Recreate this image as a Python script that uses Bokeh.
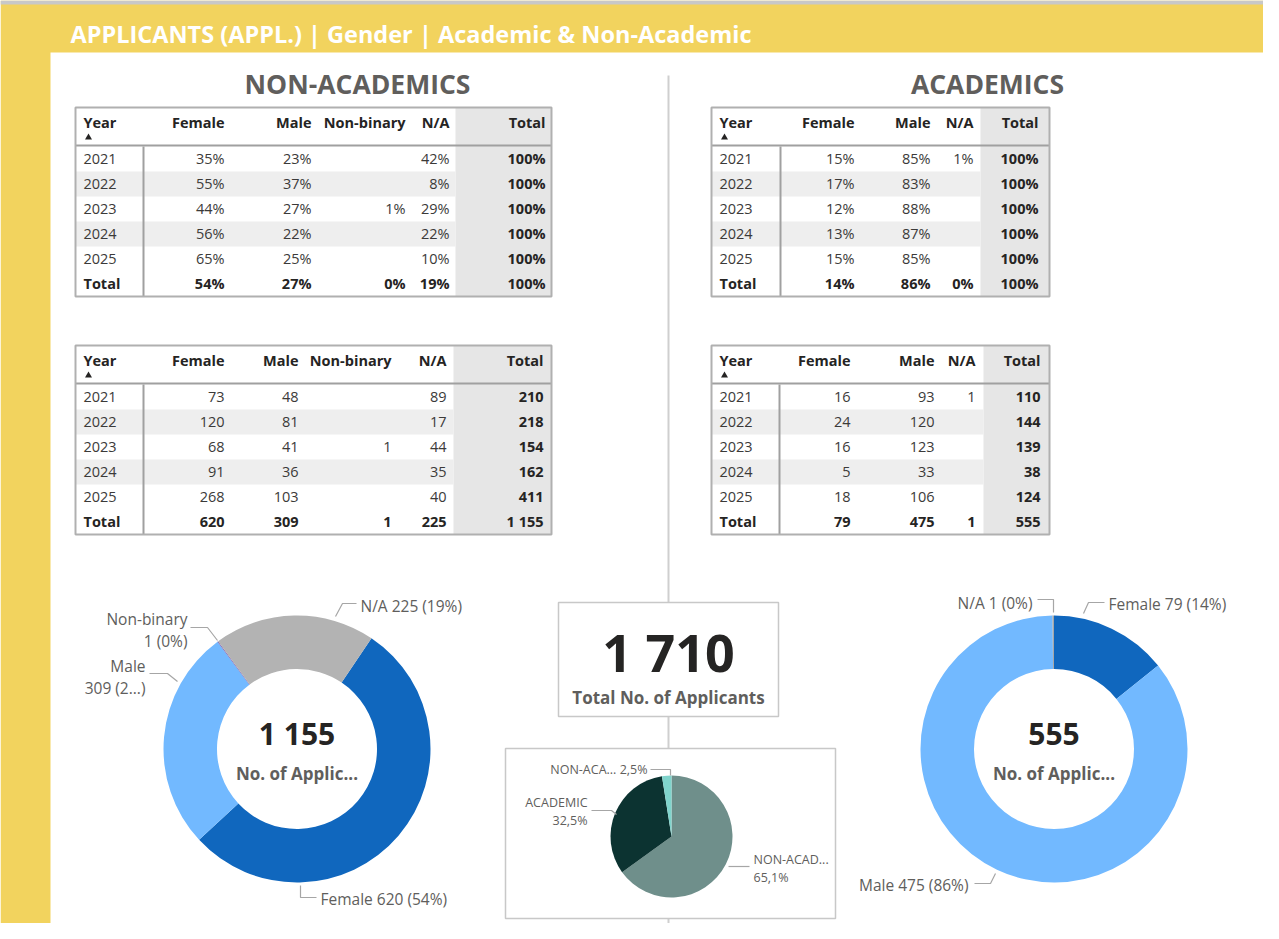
import math
from bokeh.plotting import figure
from bokeh.models import Range1d
from bokeh.core.properties import value
from bokeh.embed import file_html
from bokeh.resources import INLINE

# ---------------- data ----------------
years = ["2021", "2022", "2023", "2024", "2025"]

# Non-academics, share of applicants per year (%)
na_pct_female = [35, 55, 44, 56, 65]
na_pct_male = [23, 37, 27, 22, 25]
na_pct_nonbinary = [None, None, 1, None, None]
na_pct_na = [42, 8, 29, 22, 10]
na_pct_total = [100, 100, 100, 100, 100]
na_pct_totalrow = [54, 27, 0, 19, 100]

# Non-academics, counts
na_cnt_female = [73, 120, 68, 91, 268]
na_cnt_male = [48, 81, 41, 36, 103]
na_cnt_nonbinary = [None, None, 1, None, None]
na_cnt_na = [89, 17, 44, 35, 40]
na_cnt_total = [210, 218, 154, 162, 411]
na_cnt_totalrow = [620, 309, 1, 225, 1155]

# Academics, share (%)
ac_pct_female = [15, 17, 12, 13, 15]
ac_pct_male = [85, 83, 88, 87, 85]
ac_pct_na = [1, None, None, None, None]
ac_pct_total = [100, 100, 100, 100, 100]
ac_pct_totalrow = [14, 86, 0, 100]

# Academics, counts
ac_cnt_female = [16, 24, 16, 5, 18]
ac_cnt_male = [93, 120, 123, 33, 106]
ac_cnt_na = [1, None, None, None, None]
ac_cnt_total = [110, 144, 139, 38, 124]
ac_cnt_totalrow = [79, 475, 1, 555]

# Donuts
na_donut_cats = ["Female", "Male", "Non-binary", "N/A"]
na_donut_vals = [620, 309, 1, 225]
ac_donut_cats = ["Female", "Male", "N/A"]
ac_donut_vals = [79, 475, 1]

# Pie: share of all applicants
pie_cats = ["NON-ACAD...", "ACADEMIC", "NON-ACA..."]
pie_vals = [65.1, 32.5, 2.5]

total_applicants = 1710

# ---------------- figure ----------------
W, H = 1263, 923
p = figure(width=W, height=H, x_range=Range1d(0, W), y_range=Range1d(939 - H, 939),
           output_backend="svg", toolbar_location=None, min_border=0)
p.axis.visible = False
p.grid.visible = False
p.outline_line_color = None
p.background_fill_color = "white"
p.border_fill_color = "white"


def Y(y):
    return 939 - y


FONT = "Open Sans"
DARK = "#252423"
BODY = "#3b3a39"
GREY = "#605e5c"
LINE = "#a6a6a6"


def txt(x, y, s, size=13, color=DARK, bold=False, align="left", font=FONT):
    p.text(x=[x], y=[Y(y)], text=[s], text_font=value(font),
           text_font_size=value(f"{size}px"),
           text_font_style="bold" if bold else "normal",
           text_color=color, text_align=align, text_baseline="middle")


def box(x0, x1, y0, y1, fill=None, line=None, lw=1.0):
    p.quad(left=[x0], right=[x1], top=[Y(y0)], bottom=[Y(y1)],
           fill_color=fill if fill else None, fill_alpha=1.0 if fill else 0.0,
           line_color=line, line_width=lw)


def seg(xs, ys, color=LINE, lw=1.2):
    p.line(x=xs, y=[Y(v) for v in ys], line_color=color, line_width=lw)


def dec(v):
    return f"{v:.1f}%".replace(".", ",")


# background: grey strip, yellow frame + white canvas
box(0, W, 0, 939, fill="#f2d35e")
box(0, W, 0, 4, fill="#c8c8c8")
box(50, W, 52, 939, fill="#ffffff")
txt(70, 33, "APPLICANTS (APPL.) | Gender | Academic & Non-Academic", size=23.5,
    color="#ffffff", bold=True)

# section titles
txt(357, 83, "NON-ACADEMICS", size=26.5, color=GREY, bold=True, align="center")
txt(987, 83, "ACADEMICS", size=26.5, color=GREY, bold=True, align="center")

# vertical divider
seg([668, 668], [75, 939], color="#cfcfcf", lw=2)


# ---------------- tables ----------------
def fmt_pct(v):
    return "" if v is None else f"{v}%"


def fmt_cnt(v):
    return "" if v is None else f"{v:,}".replace(",", " ")


TS = 14.5


def table(x0, x1, y0, sep, shade, year_x, headers, rights, cols, totalrow, fmt):
    y1 = y0 + 189
    box(shade, x1, y0, y1, fill="#e6e6e6")
    for i in (1, 3):
        box(x0, shade, y0 + 39 + 25 * i, y0 + 64 + 25 * i, fill="#eeeeee")
    seg([x0, x1], [y0 + 38, y0 + 38], color="#a0a0a0", lw=2)
    seg([sep, sep], [y0 + 39, y1], color="#a0a0a0", lw=2)
    box(x0, x1, y0, y1, line="#b0b0b0", lw=2)
    txt(year_x, y0 + 15, "Year", size=TS, bold=True)
    p.scatter(x=[year_x + 5], y=[Y(y0 + 30)], marker="triangle", size=7,
              fill_color=DARK, line_color=None)
    for h, r in zip(headers, rights):
        txt(r, y0 + 15, h, size=TS, bold=True, align="right")
    for i, yr in enumerate(years):
        yy = y0 + 51 + 25 * i
        txt(year_x, yy, yr, size=TS, color=BODY)
        for j, (col, r) in enumerate(zip(cols, rights)):
            last = j == len(cols) - 1
            txt(r, yy, fmt(col[i]), size=TS, color=DARK if last else BODY,
                bold=last, align="right")
    yy = y0 + 51 + 25 * 5
    txt(year_x, yy, "Total", size=TS, bold=True)
    for v, r in zip(totalrow, rights):
        txt(r, yy, fmt(v), size=TS, bold=True, align="right")


na_headers = ["Female", "Male", "Non-binary", "N/A", "Total"]
ac_headers = ["Female", "Male", "N/A", "Total"]

table(75, 551, 107, 143, 455, 83, na_headers, [224, 311, 405, 449, 545],
      [na_pct_female, na_pct_male, na_pct_nonbinary, na_pct_na, na_pct_total],
      na_pct_totalrow, fmt_pct)
table(75, 551, 345, 143, 453, 83, na_headers, [224, 298, 391, 446, 543],
      [na_cnt_female, na_cnt_male, na_cnt_nonbinary, na_cnt_na, na_cnt_total],
      na_cnt_totalrow, fmt_cnt)
table(711, 1049, 107, 780, 980, 719, ac_headers, [854, 930, 973, 1038],
      [ac_pct_female, ac_pct_male, ac_pct_na, ac_pct_total],
      ac_pct_totalrow, fmt_pct)
table(711, 1049, 345, 779, 983, 719, ac_headers, [850, 934, 975, 1040],
      [ac_cnt_female, ac_cnt_male, ac_cnt_na, ac_cnt_total],
      ac_cnt_totalrow, fmt_cnt)


# ---------------- donuts / pie ----------------
def ring(cx, cy, vals, colors, start_deg, r_in, r_out):
    tot = float(sum(vals))
    a = math.radians(start_deg)
    starts, ends = [], []
    for v in vals:
        span = 2 * math.pi * v / tot
        # clockwise from 12 o'clock -> bokeh anticlockwise from +x
        ends.append(math.pi / 2 - a)
        starts.append(math.pi / 2 - a - span)
        a += span
    if r_in > 0:
        p.annular_wedge(x=[cx] * len(vals), y=[Y(cy)] * len(vals), inner_radius=r_in,
                        outer_radius=r_out, start_angle=starts, end_angle=ends,
                        fill_color=colors, line_color=None)
    else:
        p.wedge(x=[cx] * len(vals), y=[Y(cy)] * len(vals), radius=r_out,
                start_angle=starts, end_angle=ends, fill_color=colors, line_color=None)


LS = 15.5

# left donut
ring(296.5, 748.5, na_donut_vals, ["#1067be", "#72b9ff", "#7b55a8", "#b3b3b3"], 33.9, 80, 133.5)
txt(296.5, 733, fmt_cnt(sum(na_donut_vals)), size=30, bold=True, align="center")
txt(296.5, 773, "No. of Applic...", size=17, color=GREY, bold=True, align="center")
seg([335, 342, 356], [616, 603, 603])
txt(360, 605, "N/A 225 (19%)", size=LS, color=GREY)
seg([190, 207, 217], [627, 627, 640])
txt(187, 618, "Non-binary", size=LS, color=GREY, align="right")
txt(187, 640, "1 (0%)", size=LS, color=GREY, align="right")
seg([149, 167, 177], [673, 673, 681])
txt(145, 665, "Male", size=LS, color=GREY, align="right")
txt(145, 687, "309 (2...)", size=LS, color=GREY, align="right")
seg([300, 300, 316], [885, 897, 897])
txt(320, 898, "Female 620 (54%)", size=LS, color=GREY)

# right donut
ring(1053.5, 748.5, ac_donut_vals, ["#1067be", "#72b9ff", "#a6a6a6"], 0, 80, 133.5)
txt(1053.5, 733, fmt_cnt(sum(ac_donut_vals)), size=30, bold=True, align="center")
txt(1053.5, 773, "No. of Applic...", size=17, color=GREY, bold=True, align="center")
seg([1037, 1053, 1053], [599, 599, 612])
txt(1032, 602, "N/A 1 (0%)", size=LS, color=GREY, align="right")
seg([1083, 1088, 1104], [613, 602, 602])
txt(1108, 603, "Female 79 (14%)", size=LS, color=GREY)
seg([974, 990, 995], [883, 883, 873])
txt(968, 884, "Male 475 (86%)", size=LS, color=GREY, align="right")

# centre card
box(558, 778, 602, 716, fill="#ffffff", line="#c8c8c8", lw=1.5)
txt(668, 651, fmt_cnt(total_applicants), size=52, bold=True, align="center")
txt(668, 697, "Total No. of Applicants", size=17, color=GREY, bold=True, align="center")

# pie box
PS = 12.5
box(505, 835, 748, 918, fill="#ffffff", line="#c8c8c8", lw=1.5)
ring(671, 836, pie_vals, ["#6f8f8b", "#0c3331", "#80d4cc"], 0, 0, 61)
seg([650, 670, 670], [769, 769, 775])
txt(647, 769, f"{pie_cats[2]} {dec(pie_vals[2])}", size=PS, color=GREY, align="right")
seg([591, 611, 616], [810, 810, 814])
txt(587, 802, pie_cats[1], size=PS, color=GREY, align="right")
txt(587, 820, dec(pie_vals[1]), size=PS, color=GREY, align="right")
seg([728, 749], [866, 866])
txt(753, 859, pie_cats[0], size=PS, color=GREY)
txt(753, 877, dec(pie_vals[0]), size=PS, color=GREY)

open("out.html", "w").write(file_html(p, INLINE))
